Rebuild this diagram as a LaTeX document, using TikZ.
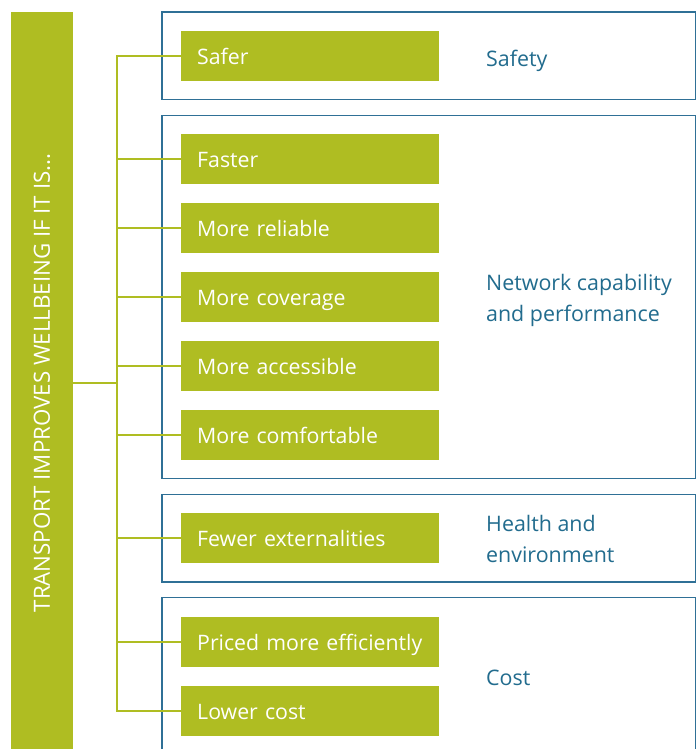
\documentclass[tikz,border=0pt]{standalone}
\usepackage{fontspec}
\setmainfont{Open Sans}
\definecolor{tgreen}{HTML}{AFBD22}
\definecolor{tblue}{HTML}{2F7096}
\definecolor{ttext}{HTML}{226C8E}
\begin{document}
\begin{tikzpicture}[x=1pt,y=-1pt,
  gbox/.style={fill=tgreen,draw=none,minimum width=258pt,minimum height=50pt,text width=226pt,align=left,inner xsep=16pt,inner ysep=0pt,text height=17pt,text depth=0pt,text=white,font=\fontsize{21.3}{24}\selectfont,anchor=west},
  bbox/.style={draw=tblue,line width=1.5pt},
  blabel/.style={text=ttext,font=\fontsize{21.4}{30.5}\selectfont,align=left,anchor=base west,inner sep=0pt},
  conn/.style={draw=tgreen,line width=2pt}]
\clip (0,0) rectangle (699,749);
\fill[white] (0,0) rectangle (699,749);
% left bar
\node[fill=tgreen,minimum width=62pt,minimum height=737pt,inner sep=0pt,anchor=north west] (bar) at (11,12) {};
\node[rotate=90,text=white,font=\fontsize{22.3}{24}\selectfont,inner sep=0pt] (bartext) at (42,383) {TRANSPORT IMPROVES WELLBEING IF IT IS...};
% blue category boxes
\draw[bbox] (162,12) rectangle (695.5,99.5);
\draw[bbox] (162,115.5) rectangle (695.5,478.5);
\draw[bbox] (162,494.5) rectangle (695.5,582);
\draw[bbox] (162,597.5) rectangle (695.5,770);
% green boxes
\node[gbox] (safer) at (181,56) {Safer};
\node[gbox] (faster) at (181,159) {Faster};
\node[gbox] (reliable) at (181,228) {More reliable};
\node[gbox] (coverage) at (181,297) {More coverage};
\node[gbox] (accessible) at (181,366) {More accessible};
\node[gbox] (comfortable) at (181,435) {More comfortable};
\node[gbox] (fewer) at (181,538) {Fewer externalities};
\node[gbox] (priced) at (181,641.5) {Priced more efficiently};
\node[gbox] (lower) at (181,710.5) {Lower cost};
% labels
\node[blabel] (lsafety) at (486,66.5) {Safety};
\node[blabel] (lnetwork) at (486,321) {Network capability\\and performance};
\node[blabel] (lhealth) at (486,562) {Health and\\environment};
\node[blabel] (lcost) at (486,685) {Cost};
% connectors
\coordinate (tx) at (117,383);
\draw[conn] (tx -| bar.east) -- (tx);
\draw[conn] (safer.west) -- (safer.west -| tx) -- (lower.west -| tx) -- (lower.west);
\foreach \n in {faster,reliable,coverage,accessible,comfortable,fewer,priced}
  \draw[conn] (\n.west -| tx) -- (\n.west);
\end{tikzpicture}
\end{document}
